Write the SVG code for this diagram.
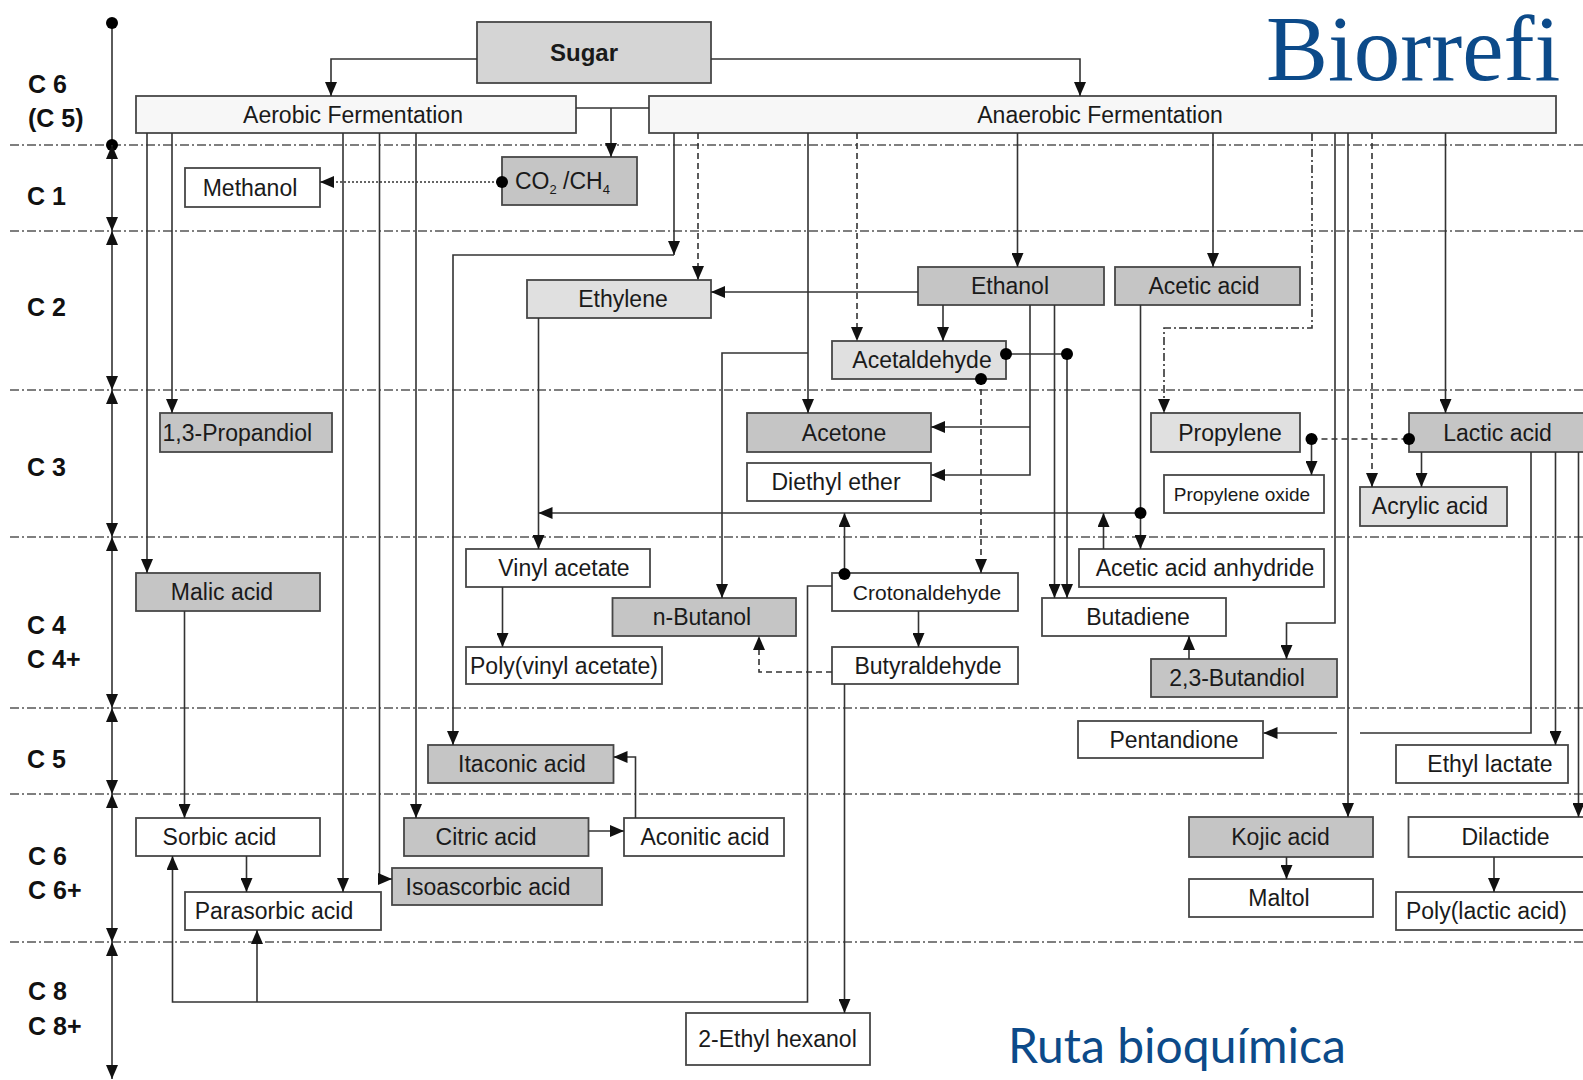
<svg xmlns="http://www.w3.org/2000/svg" width="1583" height="1080" viewBox="0 0 1583 1080">
<style>
.b{stroke:#474747;stroke-width:1.8}
.d{fill:#c5c5c5}.l{fill:#e0e0e0}.w{fill:#ffffff}.f{fill:#f7f7f7}.s{fill:#d5d5d5}
.t{font-family:"Liberation Sans",Arial,sans-serif;font-size:23px;fill:#1a1a1a;text-anchor:middle}
.st{text-anchor:start}
.lab{font-family:"Liberation Sans",Arial,sans-serif;font-size:25px;font-weight:bold;fill:#111}
.c{stroke:#333;stroke-width:1.6;fill:none}
.a{marker-end:url(#ah)}
.da{stroke-dasharray:6,4}
.dd{stroke-dasharray:8,3,2,3}
.dt{stroke-dasharray:2,2;stroke-width:1.3}
.sep{stroke:#555;stroke-width:1.5;stroke-dasharray:9,3,2,3;fill:none}
.ax{stroke:#333;stroke-width:1.6;fill:none;marker-start:url(#ah);marker-end:url(#ah)}
.dot{fill:#000}
.ttl{fill:#0c4a89}
</style>
<defs>
<marker id="ah" viewBox="0 0 14 12" refX="14" refY="6" markerWidth="14" markerHeight="12" markerUnits="userSpaceOnUse" orient="auto-start-reverse"><path d="M0,0L14,6L0,12z" fill="#111"/></marker>
</defs>
<rect width="1583" height="1080" fill="#fff"/>

<g id="separators">
<path class="sep" d="M10,145H1583M10,231H1583M10,390H1583M10,537H1583M10,708H1583M10,794H1583M10,942H1583"/>
</g>

<g id="axis">
<path class="c" d="M112,23V145"/>
<circle class="dot" cx="112" cy="23" r="6"/>
<circle class="dot" cx="112" cy="145" r="6"/>
<path class="ax" d="M112,145V231"/>
<path class="ax" d="M112,231V390"/>
<path class="ax" d="M112,390V537"/>
<path class="ax" d="M112,537V708"/>
<path class="ax" d="M112,708V794"/>
<path class="ax" d="M112,794V942"/>
<path class="ax" d="M112,942V1079"/>
<text class="lab" x="28" y="93">C 6</text>
<text class="lab" x="28" y="127">(C 5)</text>
<text class="lab" x="27" y="205">C 1</text>
<text class="lab" x="27" y="316">C 2</text>
<text class="lab" x="27" y="476">C 3</text>
<text class="lab" x="27" y="634">C 4</text>
<text class="lab" x="27" y="668">C 4+</text>
<text class="lab" x="27" y="768">C 5</text>
<text class="lab" x="28" y="865">C 6</text>
<text class="lab" x="28" y="899">C 6+</text>
<text class="lab" x="28" y="1000">C 8</text>
<text class="lab" x="28" y="1035">C 8+</text>
</g>

<g id="sugar"><rect class="b s" x="477" y="22" width="234" height="61"/><text class="t" x="584" y="61" style="font-weight:bold;font-size:24px">Sugar</text></g>
<g id="aerobic"><rect class="b f" x="136" y="96" width="440" height="37"/><text class="t" x="353" y="122.5">Aerobic Fermentation</text></g>
<g id="anaerobic"><rect class="b f" x="649" y="96" width="907" height="37"/><text class="t" x="1100" y="122.5">Anaerobic Fermentation</text></g>
<g id="methanol"><rect class="b w" x="185" y="168" width="135" height="39"/><text class="t" x="250" y="195.5">Methanol</text></g>
<g id="co2ch4"><rect class="b d" x="502" y="157" width="135" height="48"/><text class="t st" x="515" y="189">CO<tspan font-size="13" dy="5">2</tspan><tspan dy="-5"> /CH</tspan><tspan font-size="13" dy="5">4</tspan></text></g>
<g id="ethylene"><rect class="b l" x="527" y="280" width="184" height="38"/><text class="t" x="623" y="307">Ethylene</text></g>
<g id="ethanol"><rect class="b d" x="918" y="267" width="186" height="38"/><text class="t" x="1010" y="294">Ethanol</text></g>
<g id="acetic-acid"><rect class="b d" x="1115" y="267" width="185" height="38"/><text class="t" x="1204" y="294">Acetic acid</text></g>
<g id="acetaldehyde"><rect class="b l" x="832" y="341" width="174" height="38"/><text class="t" x="922" y="368">Acetaldehyde</text></g>
<g id="propandiol"><rect class="b d" x="160" y="413" width="172" height="39"/><text class="t st" x="162.5" y="440.5">1,3-Propandiol</text></g>
<g id="acetone"><rect class="b d" x="747" y="413" width="184" height="39"/><text class="t" x="844" y="440.5">Acetone</text></g>
<g id="diethyl-ether"><rect class="b w" x="747" y="463" width="184" height="38"/><text class="t" x="836" y="490">Diethyl ether</text></g>
<g id="propylene"><rect class="b l" x="1151" y="413" width="149" height="39"/><text class="t" x="1230" y="440.5">Propylene</text></g>
<g id="propylene-oxide"><rect class="b w" x="1164" y="475" width="160" height="38"/><text class="t" x="1242" y="500.5" style="font-size:19px">Propylene oxide</text></g>
<g id="lactic-acid"><rect class="b d" x="1409" y="413" width="176" height="39"/><text class="t" x="1497.5" y="440.5">Lactic acid</text></g>
<g id="acrylic-acid"><rect class="b l" x="1360" y="487" width="147" height="39"/><text class="t" x="1430" y="514">Acrylic acid</text></g>
<g id="malic-acid"><rect class="b d" x="136" y="573" width="184" height="38"/><text class="t" x="222" y="600">Malic acid</text></g>
<g id="vinyl-acetate"><rect class="b w" x="466" y="549" width="184" height="38"/><text class="t" x="564" y="576">Vinyl acetate</text></g>
<g id="poly-vinyl-acetate"><rect class="b w" x="466" y="647" width="196" height="37"/><text class="t" x="564" y="673.5">Poly(vinyl acetate)</text></g>
<g id="n-butanol"><rect class="b d" x="612.5" y="598" width="183.5" height="38"/><text class="t" x="702" y="625">n-Butanol</text></g>
<g id="crotonaldehyde"><rect class="b w" x="832" y="573" width="186" height="38"/><text class="t" x="927" y="599.5" style="font-size:21px">Crotonaldehyde</text></g>
<g id="butyraldehyde"><rect class="b w" x="832" y="647" width="186" height="37"/><text class="t" x="928" y="673.5">Butyraldehyde</text></g>
<g id="acetic-anhydride"><rect class="b w" x="1079" y="549" width="245" height="38"/><text class="t" x="1205" y="576">Acetic acid anhydride</text></g>
<g id="butadiene"><rect class="b w" x="1042" y="598" width="184" height="38"/><text class="t" x="1138" y="625">Butadiene</text></g>
<g id="butandiol"><rect class="b d" x="1151" y="659" width="186" height="38"/><text class="t" x="1237" y="686">2,3-Butandiol</text></g>
<g id="pentandione"><rect class="b w" x="1078" y="721" width="185" height="37"/><text class="t" x="1174" y="747.5">Pentandione</text></g>
<g id="ethyl-lactate"><rect class="b w" x="1396" y="745" width="172" height="38"/><text class="t" x="1490" y="772">Ethyl lactate</text></g>
<g id="itaconic-acid"><rect class="b d" x="428" y="745" width="185.5" height="38"/><text class="t" x="522" y="772">Itaconic acid</text></g>
<g id="sorbic-acid"><rect class="b w" x="136" y="818" width="184" height="38"/><text class="t" x="219.5" y="845">Sorbic acid</text></g>
<g id="parasorbic-acid"><rect class="b w" x="185" y="892" width="196" height="38"/><text class="t" x="274" y="919">Parasorbic acid</text></g>
<g id="citric-acid"><rect class="b d" x="404" y="818" width="184.5" height="38"/><text class="t" x="486" y="845">Citric acid</text></g>
<g id="isoascorbic-acid"><rect class="b d" x="392" y="868" width="210" height="37"/><text class="t" x="488" y="894.5">Isoascorbic acid</text></g>
<g id="aconitic-acid"><rect class="b w" x="624" y="818" width="160" height="38"/><text class="t" x="705" y="845">Aconitic acid</text></g>
<g id="ethyl-hexanol"><rect class="b w" x="686" y="1013" width="184" height="52"/><text class="t" x="777.5" y="1047">2-Ethyl hexanol</text></g>
<g id="kojic-acid"><rect class="b d" x="1189" y="817" width="184" height="40"/><text class="t" x="1280.5" y="845">Kojic acid</text></g>
<g id="maltol"><rect class="b w" x="1189" y="879" width="184" height="38"/><text class="t" x="1279" y="906">Maltol</text></g>
<g id="dilactide"><rect class="b w" x="1408.5" y="817" width="176" height="40"/><text class="t" x="1505.5" y="845">Dilactide</text></g>
<g id="poly-lactic-acid"><rect class="b w" x="1396" y="892" width="188" height="38"/><text class="t" x="1486.5" y="919">Poly(lactic acid)</text></g>

<g id="connectors">
<path class="c a" d="M477,59H331V96"/>
<path class="c a" d="M711,59H1080V96"/>
<path class="c" d="M576,108H649"/>
<path class="c a" d="M611,108V157"/>
<path class="c dt a" d="M502,182H320"/>
<circle class="dot" cx="502" cy="182" r="6"/>
<path class="c a" d="M147,133V573"/>
<path class="c a" d="M172,133V413"/>
<path class="c a" d="M343,133V892"/>
<path class="c a" d="M379.5,133V879H392"/>
<path class="c a" d="M416,133V818"/>
<path class="c a" d="M674,133V255"/>
<path class="c a" d="M674,255H453V745"/>
<path class="c da a" d="M698,133V280"/>
<path class="c a" d="M808,133V413"/>
<path class="c a" d="M808,353H722V598"/>
<path class="c da a" d="M857,133V341"/>
<path class="c a" d="M1017.5,133V267"/>
<path class="c a" d="M1213,133V267"/>
<path class="c dd a" d="M1312,133V328H1164V413"/>
<path class="c a" d="M1335,133V623H1286.5V659"/>
<path class="c a" d="M1348,133V817"/>
<path class="c da a" d="M1372,133V487"/>
<path class="c a" d="M1445.5,133V413"/>
<path class="c a" d="M918,292H711"/>
<path class="c a" d="M943,305V341"/>
<path class="c a" d="M1030,305V475H931"/>
<path class="c a" d="M1030,427H931"/>
<path class="c a" d="M1054.5,305V598"/>
<path class="c" d="M1006,354H1067"/>
<path class="c a" d="M1067,354V598"/>
<circle class="dot" cx="1006" cy="354" r="6"/>
<circle class="dot" cx="1067" cy="354" r="6"/>
<path class="c da a" d="M981,379V573"/>
<circle class="dot" cx="981" cy="379" r="6"/>
<path class="c a" d="M538.5,318V549"/>
<path class="c a" d="M1140.5,305V549"/>
<path class="c a" d="M1140.5,513H538.5"/>
<circle class="dot" cx="1140.5" cy="513" r="6"/>
<path class="c a" d="M844.5,574V513"/>
<circle class="dot" cx="844.5" cy="574" r="6"/>
<path class="c a" d="M1103.5,549V513"/>
<path class="c a" d="M918.5,611V647"/>
<path class="c a" d="M832,586H807.5V1002H172.5V856"/>
<path class="c a" d="M257,1002V930"/>
<path class="c da a" d="M832,672H759V636"/>
<path class="c a" d="M844.5,684V1013"/>
<path class="c a" d="M502.5,587V647"/>
<path class="c a" d="M184.5,611V818"/>
<path class="c a" d="M246.5,856V892"/>
<path class="c a" d="M588.5,831H624"/>
<path class="c a" d="M635.5,818V757H613.5"/>
<path class="c da" d="M1311.5,439H1409"/>
<path class="c a" d="M1311.5,439V475"/>
<circle class="dot" cx="1311.5" cy="439" r="6"/>
<circle class="dot" cx="1409" cy="439" r="6"/>
<path class="c a" d="M1421.5,452V487"/>
<path class="c" d="M1531,452V733H1360"/>
<path class="c a" d="M1337,733H1263.5"/>
<path class="c a" d="M1555.5,452V745"/>
<path class="c a" d="M1578.5,452V817"/>
<path class="c a" d="M1189,659V636"/>
<path class="c a" d="M1286.5,857V879"/>
<path class="c a" d="M1494,857V892"/>
</g>

<g id="titles">
<text class="ttl" x="1266" y="80" font-family="'Liberation Serif',serif" font-size="93">Biorrefi</text>
<text class="ttl" x="1008" y="1063" font-family="Lato,'Open Sans',sans-serif" font-size="48">Ruta bioquímica</text>
</g>
</svg>
